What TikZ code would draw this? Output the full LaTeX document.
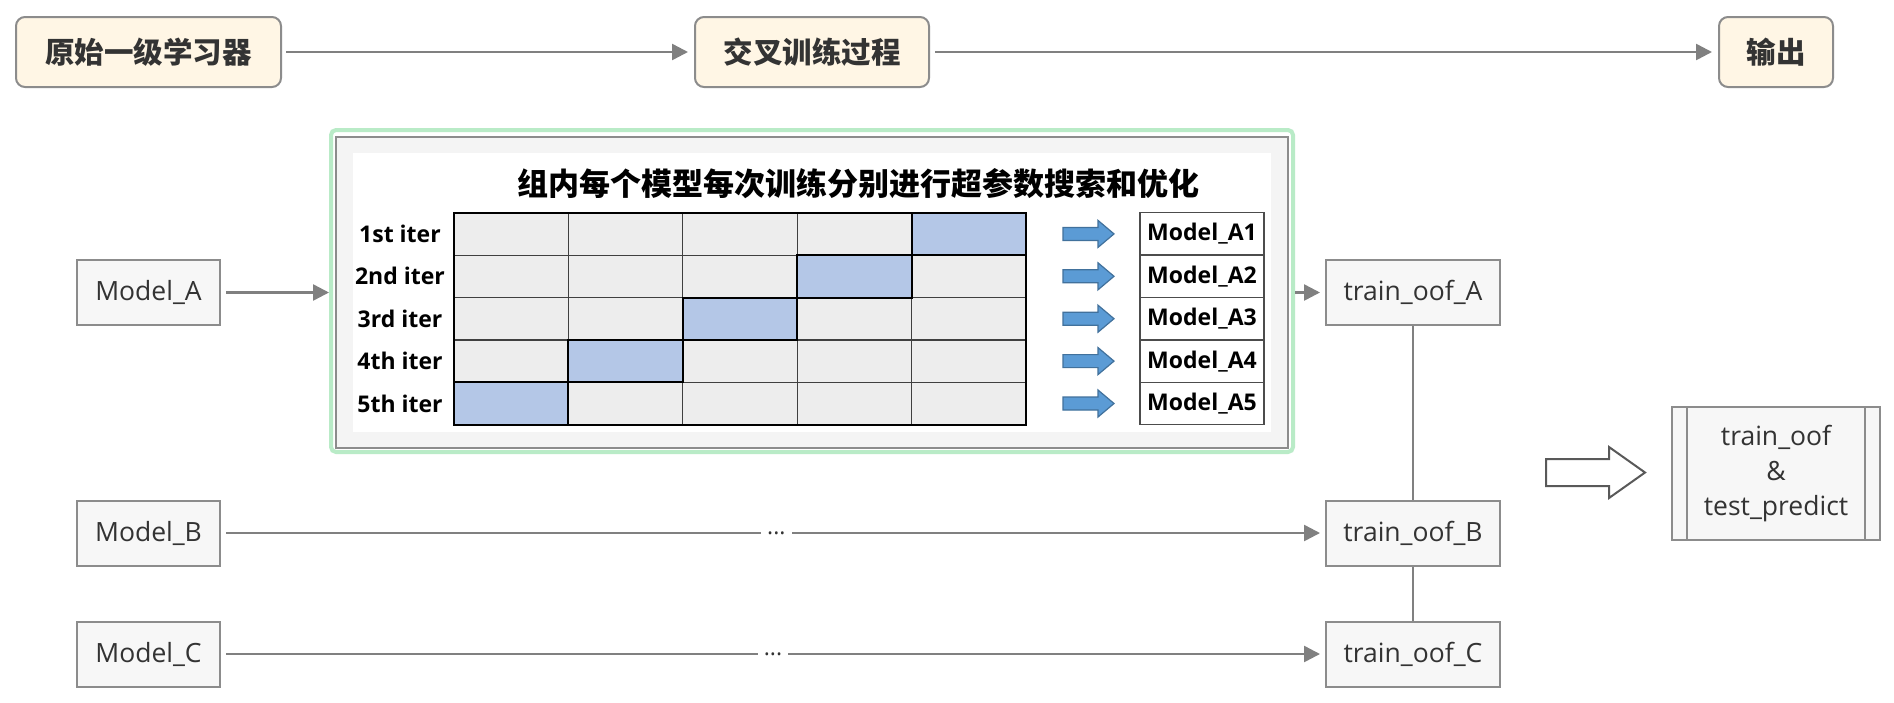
\documentclass[tikz,border=0pt]{standalone}
\usepackage{fontspec}
\setmainfont{Open Sans}
\newfontfamily\cjk{Noto Sans CJK SC}
\usetikzlibrary{arrows.meta}
\definecolor{txt}{HTML}{333333}
\definecolor{gc}{HTML}{8C8C8C}
\definecolor{lc}{HTML}{808080}
\definecolor{cream}{HTML}{FFF6E5}
\definecolor{boxf}{HTML}{F7F7F7}
\definecolor{frgreen}{HTML}{B9EBC7}
\definecolor{cellgray}{HTML}{EDEDED}
\definecolor{cellblue}{HTML}{B4C7E7}
\definecolor{abl}{HTML}{5B9BD5}
\definecolor{abd}{HTML}{41719C}
\definecolor{panelgray}{HTML}{F4F4F4}
\tikzset{
  topbox/.style={draw=gc, line width=2pt, rounded corners=9pt, fill=cream, text=txt,
    font=\cjk\bfseries\fontsize{29.5}{34}\selectfont, inner sep=0pt, minimum height=70pt},
  mbox/.style={draw=gc, line width=2pt, fill=boxf, text=txt,
    font=\fontsize{26.5}{34}\selectfont, inner sep=0pt, minimum height=65pt},
  conn/.style={draw=lc, line width=2.5pt, -{Triangle[length=16pt,width=16pt]}},
  plainline/.style={draw=lc, line width=2.5pt},
  dots/.style={fill=white, text=txt, font=\fontsize{23}{26}\selectfont, inner xsep=6pt, inner ysep=3pt},
  rowlab/.style={font=\bfseries\fontsize{23}{26}\selectfont, text=black},
  abox/.style={draw=black!70, line width=1.5pt, fill=white, minimum width=124pt,
    minimum height=42.4pt, inner sep=0pt, font=\bfseries\fontsize{23}{26}\selectfont, text=black},
  bluearrow/.style={fill=abl, draw=abd, line width=1.2pt},
}
\begin{document}
\begin{tikzpicture}[x=1pt,y=-1pt]
\useasboundingbox[fill=white] (0,0) rectangle (1894,702);

% top flow
\node[topbox, minimum width=265pt] (t1) at (148.5,52) {原始一级学习器};
\node[topbox, minimum width=234pt] (t2) at (812,52) {交叉训练过程};
\node[topbox, minimum width=114pt] (t3) at (1776,52) {输出};
\draw[conn, shorten <=4pt, shorten >=6pt] (t1) -- (t2);
\draw[conn, shorten <=5pt, shorten >=6pt] (t2) -- (t3);

% frame
\node[draw=frgreen, line width=4pt, rounded corners=5pt, minimum width=962pt,
  minimum height=322pt, inner sep=0pt] (frame) at (812,291) {};
\draw[draw=gc, line width=2.5pt, fill=panelgray] (336,137) rectangle (1288,448);
\fill[white] (353,153) rectangle (1271,432);
\node[font=\cjk\bfseries\fontsize{31}{34}\selectfont, text=black] (title) at (858,184)
  {组内每个模型每次训练分别进行超参数搜索和优化};

% grid
\foreach \r in {1,...,5}{
  \foreach \c in {1,...,5}{
    \draw[draw=black!75, line width=1.2pt, fill=cellgray]
      ({454+114.4*(\c-1)},{212.7+42.4*(\r-1)}) rectangle ++(114.4,42.4);
  }
}
\foreach \r in {1,...,5}{
  \pgfmathsetmacro{\cc}{6-\r}
  \draw[draw=black, line width=2pt, fill=cellblue]
    ({454+114.4*(\cc-1)},{212.7+42.4*(\r-1)}) rectangle ++(114.4,42.4);
}
\draw[black, line width=2pt] (454,212.7) rectangle (1026,424.7);

% row labels, arrows, model boxes
\foreach \r/\lab in {1/1st iter,2/2nd iter,3/3rd iter,4/4th iter,5/5th iter}{
  \pgfmathsetmacro{\yc}{212.7+42.4*(\r-0.5)}
  \node[rowlab] (lab\r) at (400,\yc) {\lab};
  \draw[bluearrow] (1063,\yc-6.5) -- (1098,\yc-6.5) -- (1098,\yc-13.5) -- (1114,\yc)
     -- (1098,\yc+13.5) -- (1098,\yc+6.5) -- (1063,\yc+6.5) -- cycle;
  \node[abox] (a\r) at (1202,\yc) {Model\_A\r};
}

% models
\node[mbox, minimum width=143pt] (ma) at (148.5,292.5) {Model\_A};
\node[mbox, minimum width=143pt] (mb) at (148.5,533) {Model\_B};
\node[mbox, minimum width=143pt] (mc) at (148.5,654) {Model\_C};
\node[mbox, minimum width=174pt] (ta) at (1413,292.5) {train\_oof\_A};
\node[mbox, minimum width=174pt] (tb) at (1413,533) {train\_oof\_B};
\node[mbox, minimum width=174pt] (tc) at (1413,654) {train\_oof\_C};

\draw[conn, shorten <=5pt] (ma.east) -- (ma.east -| frame.west);
\draw[conn, shorten >=5pt] (frame.east |- ta.west) -- (ta.west);
\draw[conn, shorten <=5pt, shorten >=5pt] (mb) -- node[dots, pos=0.503] (d1) {...} (tb);
\draw[conn, shorten <=5pt, shorten >=5pt] (mc) -- node[dots, pos=0.5] (d2) {...} (tc);
\draw[plainline] (ta.south) -- (tb.north);
\draw[plainline] (tb.south) -- (tc.north);

% hollow arrow
\draw[draw=black!65, line width=2pt, fill=white]
  (1546,459) -- (1609,459) -- (1609,447) -- (1645,472.5) -- (1609,498) -- (1609,486)
  -- (1546,486) -- cycle;

% result
\node[draw=gc, line width=2pt, fill=boxf, text=txt, minimum width=208pt, minimum height=133pt,
  align=center, inner sep=0pt, font=\fontsize{26.5}{35}\selectfont] (res) at (1776,473.5)
  {\rule{0pt}{8pt}train\_oof\\\&\\test\_predict};
\draw[gc, line width=2pt] ([xshift=16pt]res.north west) -- ([xshift=16pt]res.south west);
\draw[gc, line width=2pt] ([xshift=-16pt]res.north east) -- ([xshift=-16pt]res.south east);
\end{tikzpicture}
\end{document}
